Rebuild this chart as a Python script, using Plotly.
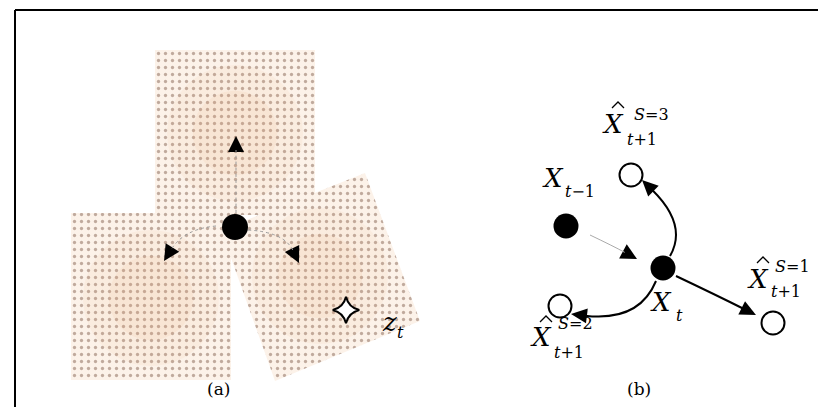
import numpy as np
import plotly.graph_objects as go

# ---------------- data (pixel space of the 826x407 canvas) ----------------
# panel (a): three dotted sample patches
patch_top_x = [147, 307, 307, 147]
patch_top_y = [42, 42, 207, 207]
patch_left_x = [63, 223, 223, 63]
patch_left_y = [205, 205, 372, 372]
patch_right_x = [213, 357, 412, 267]
patch_right_y = [222, 165, 313, 373]
core_cx = [227, 143, 312]
core_cy = [125, 290, 268]
core_r = [68, 68, 68]

node_a_x = [227]
node_a_y = [219]
star_x = [338]
star_y = [302]

# panel (a) arrows: start, control, end(tip)
arr_a_start_x = [228, 208, 240]
arr_a_start_y = [205, 218, 222]
arr_a_ctrl_x = [228, 176, 276]
arr_a_ctrl_y = [170, 221, 224]
arr_a_tip_x = [228, 156, 291]
arr_a_tip_y = [128, 253, 255]

# panel (b): nodes
filled_x = [558, 655]
filled_y = [218, 260]
open_x = [623, 552, 765]
open_y = [167, 298, 315]

# panel (b) arrows: start, control, tip
arr_b_start_x = [582, 662, 648, 668]
arr_b_start_y = [227, 248, 273, 268]
arr_b_ctrl_x = [605, 680, 631, 708]
arr_b_ctrl_y = [238, 217, 314, 287]
arr_b_tip_x = [629, 634, 563, 748]
arr_b_tip_y = [251, 172, 306, 307]
arr_b_style = ["thin", "bold", "bold", "bold"]

# panel (b) labels
lab_x = [545, 653, 605, 750, 533]
lab_y = [177, 301, 123, 278, 336]
sub_text = ["<i>t</i>−1", "<i>t</i>", "<i>t</i>+1", "<i>t</i>+1", "<i>t</i>+1"]
sub_x = [572, 671, 634, 778, 561]
sub_y = [190, 314, 138, 290, 351]
sup_text = ["<i>S</i>=3", "<i>S</i>=1", "<i>S</i>=2"]
sup_x = [643, 784, 567]
sup_y = [113, 265, 322]
hat_x = [610, 755, 538]
hat_y = [97, 252, 311]

panel_labels = ["(a)", "(b)"]
panel_label_x = [210, 631]
panel_label_y = [388, 388]

W, H = 826, 407
SERIF = "DejaVu Serif"
TEXT_DY = -7  # shift text box so glyphs sit where measured

fig = go.Figure()

BG = "#fcf2e9"
DOT = "#c0aa9d"


def patch(xs, ys):
    fig.add_trace(go.Scatter(
        x=xs + [xs[0]], y=ys + [ys[0]], mode="lines", line=dict(width=0),
        fill="toself", fillcolor=BG,
        fillpattern=dict(shape=".", bgcolor=BG, fgcolor=DOT, size=7,
                         solidity=0.17, fillmode="replace"),
        hoverinfo="skip", showlegend=False))


def core(cx, cy, r):
    th = np.linspace(0, 2 * np.pi, 72)
    for k, a in ((1.0, 0.08), (0.62, 0.10)):
        fig.add_trace(go.Scatter(
            x=list(cx + k * r * np.cos(th)), y=list(cy + k * r * np.sin(th)), mode="lines",
            line=dict(width=0), fill="toself", fillcolor=f"rgba(235,170,120,{a})",
            hoverinfo="skip", showlegend=False))


patch(patch_top_x, patch_top_y)
core(core_cx[0], core_cy[0], core_r[0])
patch(patch_left_x, patch_left_y)
core(core_cx[1], core_cy[1], core_r[1])
patch(patch_right_x, patch_right_y)
core(core_cx[2], core_cy[2], core_r[2])

shapes = []


def arrow(x0, y0, cx, cy, tx, ty, color, width, dash, length=15, half=8):
    dx, dy = tx - cx, ty - cy
    n = np.hypot(dx, dy)
    ux, uy = dx / n, dy / n
    bx, by = tx - ux * length, ty - uy * length
    shapes.append(dict(type="path", xref="x", yref="y",
                       path=f"M {x0},{y0} Q {cx},{cy} {bx + ux * 2},{by + uy * 2}",
                       line=dict(color=color, width=width, dash=dash)))
    px, py = -uy, ux
    fig.add_trace(go.Scatter(
        x=[tx, bx + px * half, bx - px * half, tx],
        y=[ty, by + py * half, by - py * half, ty],
        mode="lines", line=dict(width=0), fill="toself", fillcolor="black",
        hoverinfo="skip", showlegend=False))


for i in range(3):
    arrow(arr_a_start_x[i], arr_a_start_y[i], arr_a_ctrl_x[i], arr_a_ctrl_y[i],
          arr_a_tip_x[i], arr_a_tip_y[i], "#9a9a9a", 1, "dot", 16, 8)

for i in range(4):
    if arr_b_style[i] == "thin":
        arrow(arr_b_start_x[i], arr_b_start_y[i], arr_b_ctrl_x[i], arr_b_ctrl_y[i],
              arr_b_tip_x[i], arr_b_tip_y[i], "#aaaaaa", 1, "solid", 16, 8)
    else:
        arrow(arr_b_start_x[i], arr_b_start_y[i], arr_b_ctrl_x[i], arr_b_ctrl_y[i],
              arr_b_tip_x[i], arr_b_tip_y[i], "black", 2, "solid", 16, 7.5)

# nodes
fig.add_trace(go.Scatter(x=node_a_x, y=node_a_y, mode="markers",
                         marker=dict(size=26, color="black"), hoverinfo="skip", showlegend=False))
fig.add_trace(go.Scatter(x=star_x, y=star_y, mode="markers",
                         marker=dict(symbol="star-diamond", size=19, color="white",
                                     line=dict(color="black", width=2)),
                         hoverinfo="skip", showlegend=False))
fig.add_trace(go.Scatter(x=filled_x, y=filled_y, mode="markers",
                         marker=dict(size=25, color="black"), hoverinfo="skip", showlegend=False))
fig.add_trace(go.Scatter(x=open_x, y=open_y, mode="markers",
                         marker=dict(size=23, color="white", line=dict(color="black", width=2)),
                         hoverinfo="skip", showlegend=False))

# hats
for hx, hy in zip(hat_x, hat_y):
    fig.add_trace(go.Scatter(x=[hx - 6, hx, hx + 6], y=[hy + 3, hy - 3, hy + 3], mode="lines",
                             line=dict(color="black", width=1.3), hoverinfo="skip", showlegend=False))

ann = []


def label(x, y, text, size):
    ann.append(dict(x=x, y=y + TEXT_DY, xref="x", yref="y", text=text, showarrow=False,
                    xanchor="center", yanchor="middle",
                    font=dict(family=SERIF, size=size, color="black")))


for x, y in zip(lab_x, lab_y):
    label(x, y, "<i>X</i>", 26)
for t, x, y in zip(sub_text, sub_x, sub_y):
    label(x, y, t, 16)
for t, x, y in zip(sup_text, sup_x, sup_y):
    label(x, y, t, 16)
label(381, 321, "<i>z</i>", 26)
label(392, 331, "<i>t</i>", 16)
for t, x, y in zip(panel_labels, panel_label_x, panel_label_y):
    label(x, y, t, 17)

# frame
shapes.append(dict(type="line", xref="x", yref="y", x0=7, y0=2, x1=W + 5, y1=2,
                   line=dict(color="black", width=2)))
shapes.append(dict(type="line", xref="x", yref="y", x0=7, y0=2, x1=7, y1=405.5,
                   line=dict(color="black", width=2)))
shapes.append(dict(type="line", xref="x", yref="y", x0=7, y0=405.5, x1=W + 5, y1=405.5,
                   line=dict(color="#777777", width=2)))

fig.update_layout(
    width=W, height=H, margin=dict(l=0, r=0, t=0, b=0),
    paper_bgcolor="white", plot_bgcolor="white",
    font=dict(family=SERIF),
    xaxis=dict(range=[0, W], visible=False, fixedrange=True),
    yaxis=dict(range=[H, 0], visible=False, fixedrange=True),
    shapes=shapes, annotations=ann, showlegend=False,
)

fig.write_html("out.html", config={"displayModeBar": False})
